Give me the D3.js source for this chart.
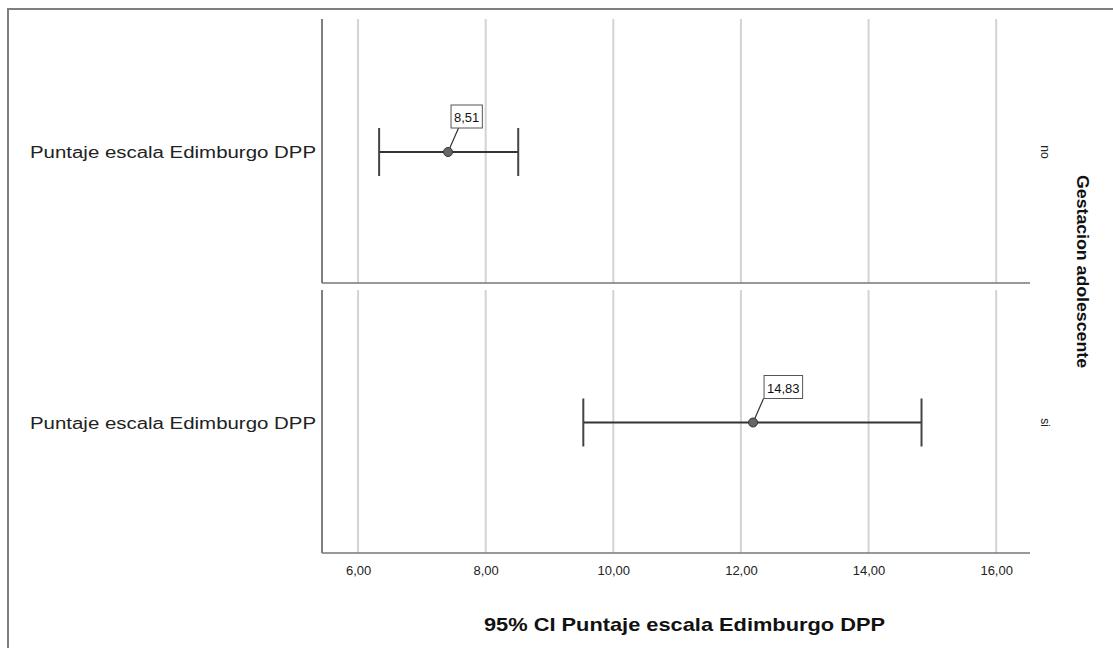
<!DOCTYPE html>
<html>
<head>
<meta charset="utf-8">
<script src="https://cdn.jsdelivr.net/npm/d3@7"></script>
<style>
  body { margin: 0; background: #fff; }
  text { font-family: "Liberation Sans", Arial, sans-serif; }
</style>
</head>
<body>
<div id="chart"></div>
<script>
// data
var groups = ["no", "si"];
var rowLabels = ["Puntaje escala Edimburgo DPP", "Puntaje escala Edimburgo DPP"];
var means = [7.41, 12.19];
var lowers = [6.33, 9.53];
var uppers = [8.51, 14.83];
var ticks = [6, 8, 10, 12, 14, 16];

var svgWidth = 1113;
var svgHeight = 648;

var svg = d3.select("#chart")
  .append("svg")
  .attr("width", svgWidth)
  .attr("height", svgHeight);

// outer frame (runs off right and bottom)
svg.append("rect")
  .attr("x", 8)
  .attr("y", 9)
  .attr("width", 1200)
  .attr("height", 700)
  .attr("fill", "none")
  .attr("stroke", "#7f7f7f")
  .attr("stroke-width", 2);

var plotLeft = 322, plotRight = 1030;
var x = d3.scaleLinear()
  .domain([5.435, 16.53])
  .range([plotLeft, plotRight]);

// panels
var panels = [
  { top: 19, bottom: 283, boxShift: 3 },
  { top: 290, bottom: 553, boxShift: 11 }
];

var fmt = function(v) { return d3.format(".2f")(v).replace(".", ","); };

panels.forEach(function(p, i) {
  var g = svg.append("g");

  // grid lines
  g.selectAll(".grid")
    .data(ticks)
    .enter()
    .append("line")
    .attr("x1", d => x(d))
    .attr("x2", d => x(d))
    .attr("y1", p.top)
    .attr("y2", p.bottom)
    .attr("stroke", "#d3d3d3")
    .attr("stroke-width", 2);

  // axis lines
  g.append("line")
    .attr("x1", plotLeft).attr("x2", plotLeft)
    .attr("y1", p.top).attr("y2", p.bottom)
    .attr("stroke", "#555").attr("stroke-width", 1.5);
  g.append("line")
    .attr("x1", plotLeft).attr("x2", plotRight)
    .attr("y1", p.bottom).attr("y2", p.bottom)
    .attr("stroke", "#777").attr("stroke-width", 1.5);

  var cy = (p.top + p.bottom) / 2 + 1;

  // row label
  g.append("text")
    .attr("x", 30)
    .attr("y", cy + 6)
    .attr("font-size", "16px")
    .attr("textLength", 286)
    .attr("lengthAdjust", "spacingAndGlyphs")
    .attr("fill", "#222")
    .text(rowLabels[i]);

  // group label on the right
  g.append("text")
    .attr("transform", `translate(1041, ${cy}) rotate(90)`)
    .attr("text-anchor", "middle")
    .attr("font-size", "12px")
    .attr("fill", "#222")
    .text(groups[i]);

  // error bar
  g.append("line")
    .attr("x1", x(lowers[i])).attr("x2", x(uppers[i]))
    .attr("y1", cy).attr("y2", cy)
    .attr("stroke", "#333").attr("stroke-width", 2);
  [lowers[i], uppers[i]].forEach(function(v) {
    g.append("line")
      .attr("x1", x(v)).attr("x2", x(v))
      .attr("y1", cy - 24).attr("y2", cy + 24)
      .attr("stroke", "#444").attr("stroke-width", 2);
  });

  // leader line + value box
  var mx = x(means[i]);
  var by = cy - 24;
  g.append("line")
    .attr("x1", mx).attr("y1", cy)
    .attr("x2", mx + 10.5).attr("y2", by)
    .attr("stroke", "#333").attr("stroke-width", 1.2);

  var box = g.append("rect");
  var label = g.append("text")
    .attr("x", mx + p.boxShift + 3)
    .attr("y", by - 6)
    .attr("font-size", "13px")
    .attr("fill", "#111")
    .text(fmt(uppers[i]));
  var bb = label.node().getBBox();
  box
    .attr("x", mx + p.boxShift)
    .attr("y", by - 23)
    .attr("width", bb.width + 6)
    .attr("height", 23)
    .attr("fill", "#fff")
    .attr("stroke", "#555")
    .attr("stroke-width", 1);

  // mean point
  g.append("circle")
    .attr("cx", mx)
    .attr("cy", cy)
    .attr("r", 4.5)
    .attr("fill", "#666")
    .attr("stroke", "#333")
    .attr("stroke-width", 1);
});

// bottom axis tick labels
var axis = d3.axisBottom(x)
  .tickValues(ticks)
  .tickSize(0)
  .tickPadding(0)
  .tickFormat(fmt);

var axisG = svg.append("g")
  .attr("transform", "translate(0, 566)")
  .call(axis);
axisG.select(".domain").remove();
axisG.selectAll("text")
  .attr("font-family", "'Liberation Sans', Arial, sans-serif")
  .attr("font-size", "13px")
  .attr("fill", "#222");

// axis titles
svg.append("text")
  .attr("x", 484)
  .attr("y", 631)
  .attr("font-size", "19px")
  .attr("font-weight", "bold")
  .attr("textLength", 401)
  .attr("lengthAdjust", "spacingAndGlyphs")
  .attr("fill", "#111")
  .text("95% CI Puntaje escala Edimburgo DPP");

svg.append("text")
  .attr("transform", "translate(1077, 175) rotate(90)")
  .attr("font-size", "16px")
  .attr("font-weight", "bold")
  .attr("textLength", 193)
  .attr("lengthAdjust", "spacingAndGlyphs")
  .attr("fill", "#111")
  .text("Gestacion adolescente");
</script>
</body>
</html>
